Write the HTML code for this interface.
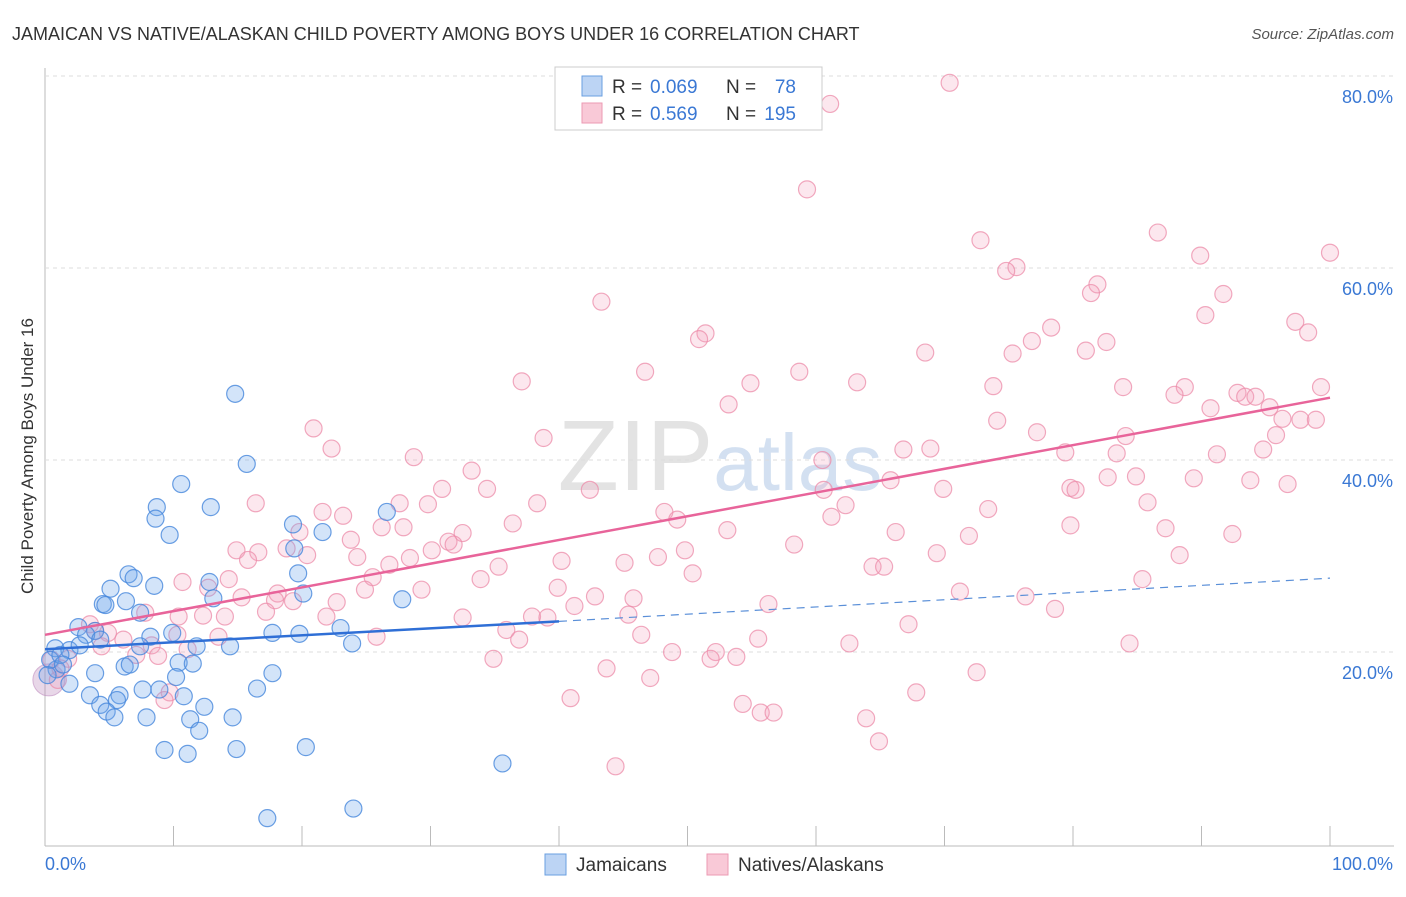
<!DOCTYPE html>
<html><head><meta charset="utf-8"><style>
body{margin:0;background:#fff;font-family:"Liberation Sans",sans-serif;}
svg text{font-family:"Liberation Sans",sans-serif;}
</style></head><body>
<svg id="chart" width="1406" height="892" viewBox="0 0 1406 892">
<text x="12" y="40" font-size="18" fill="#333">JAMAICAN VS NATIVE/ALASKAN CHILD POVERTY AMONG BOYS UNDER 16 CORRELATION CHART</text>
<text x="1394" y="39" font-size="15" fill="#555" text-anchor="end" font-style="italic">Source: ZipAtlas.com</text>
<text x="720" y="490" font-size="100" text-anchor="middle" font-family="Liberation Serif" fill="#ddd" opacity="0.8">ZIP<tspan fill="#c9d9ee" font-family="Liberation Sans" font-size="80">atlas</tspan></text>
<text transform="translate(33,456) rotate(-90)" font-size="17" fill="#333" text-anchor="middle">Child Poverty Among Boys Under 16</text>
<g id="grid"></g><g id="ticks"></g><g id="pts"></g><g id="lines"></g>
<g>
<rect x="555" y="67" width="267" height="63" fill="#fff" stroke="#ccc"/>
<rect x="582" y="76" width="20" height="20" fill="#bcd4f4" stroke="#6a9fe0"/>
<rect x="582" y="103" width="20" height="20" fill="#f9c9d7" stroke="#ec9ab3"/>
<text x="612" y="93" font-size="19" fill="#333">R =</text>
<text x="650" y="93" font-size="19" fill="#3a78d4">0.069</text>
<text x="726" y="93" font-size="19" fill="#333">N =</text>
<text x="796" y="93" font-size="19" fill="#3a78d4" text-anchor="end">78</text>
<text x="612" y="120" font-size="19" fill="#333">R =</text>
<text x="650" y="120" font-size="19" fill="#3a78d4">0.569</text>
<text x="726" y="120" font-size="19" fill="#333">N =</text>
<text x="796" y="120" font-size="19" fill="#3a78d4" text-anchor="end">195</text>
</g>
<g>
<rect x="545" y="854" width="21" height="21" fill="#bcd4f4" stroke="#6a9fe0"/>
<text x="576" y="871" font-size="19" fill="#333">Jamaicans</text>
<rect x="707" y="854" width="21" height="21" fill="#f9c9d7" stroke="#ec9ab3"/>
<text x="738" y="871" font-size="19" fill="#333">Natives/Alaskans</text>
</g>
</svg>
<script>
const yTicks=[20,40,60,80];
const xTickLabels=["0.0%","100.0%"];
const blueX=[14.8,15.7,10.6,8.7,8.6,12.9,9.7,19.3,21.6,26.6,19.4,6.5,6.9,12.8,5.1,8.5,19.7,20.1,27.8,4.5,4.7,6.3,13.1,7.4,2.6,3.9,9.9,8.2,17.7,19.8,23.0,3.2,7.4,11.8,14.4,23.9,0.8,1.9,2.7,4.3,6.2,6.6,10.4,11.5,3.9,10.2,17.7,1.9,0.9,3.5,5.8,7.6,8.9,10.8,16.5,4.3,5.6,4.8,5.4,7.9,11.3,12.4,14.6,12.0,9.3,11.1,14.9,20.3,35.6,17.3,24.0,0.4,1.2,0.2,1.4];
const blueY=[47.1,39.8,37.7,35.3,34.1,35.3,32.4,33.5,32.7,34.8,31.0,28.3,27.9,27.5,26.8,27.1,28.4,26.3,25.7,25.2,25.1,25.5,25.8,24.3,22.8,22.4,22.2,21.8,22.2,22.1,22.7,22.0,20.8,20.8,20.8,21.1,20.6,20.4,20.9,21.5,18.7,18.9,19.1,19.0,18.0,17.6,18.0,16.9,18.4,15.7,15.7,16.3,16.3,15.6,16.4,14.7,15.2,14.0,13.4,13.4,13.2,14.5,13.4,12.0,10.0,9.6,10.1,10.3,8.6,2.9,3.9,19.4,19.9,17.8,18.9];
const pinkX=[70.4,61.1,59.3,72.8,86.6,100,89.9,75.6,74.8,81.9,81.4,91.7,43.3,90.3,97.3,98.3,51.4,50.9,78.3,76.8,82.6,81.0,68.5,75.3,46.7,58.7,37.1,54.9,63.2,73.8,83.9,88.7,99.3,87.9,92.8,93.4,94.2,95.3,90.7,53.2,74.1,96.3,97.7,98.9,20.9,95.8,77.2,84.1,38.8,22.3,28.7,66.8,68.9,79.4,83.4,91.2,94.8,60.5,33.2,34.4,30.9,42.4,60.6,69.9,65.8,79.8,80.2,82.7,84.9,89.4,93.8,96.7,16.4,27.6,29.8,38.3,62.3,85.8,73.4,21.6,23.2,48.2,49.2,61.2,36.4,26.2,27.9,32.5,53.1,66.2,79.8,87.2,92.4,19.8,23.8,31.4,31.8,71.9,14.9,16.6,18.8,20.4,30.1,49.8,58.3,69.4,88.3,15.8,24.3,28.4,40.2,47.7,45.1,26.8,35.3,64.4,65.3,14.3,25.5,10.7,33.9,50.4,85.4,12.7,24.9,29.3,39.9,15.3,18.1,17.9,19.3,22.7,42.8,45.8,71.2,76.3,56.3,41.2,78.6,7.8,17.2,10.4,12.3,14.0,21.9,32.5,37.9,39.1,45.4,67.2,3.5,3.9,13.5,4.9,6.1,10.3,35.9,25.8,36.9,46.4,55.5,8.3,11.1,4.4,62.6,84.4,48.8,52.2,7.1,8.8,34.9,51.8,53.8,1.8,43.7,72.5,47.1,1.0,9.7,9.3,67.8,40.9,54.3,55.7,56.7,63.9,64.9,44.4,0.5,1.2];
const pinkY=[79.5,77.3,68.4,63.1,63.9,61.8,61.5,60.3,59.9,58.5,57.6,57.5,56.7,55.3,54.6,53.5,53.4,52.8,54.0,52.6,52.5,51.6,51.4,51.3,49.4,49.4,48.4,48.2,48.3,47.9,47.8,47.8,47.8,47.0,47.2,46.8,46.8,45.7,45.6,46.0,44.3,44.5,44.4,44.4,43.5,42.8,43.1,42.7,42.5,41.4,40.5,41.3,41.4,41.0,40.9,40.8,41.3,40.2,39.1,37.2,37.2,37.1,37.1,37.2,38.1,37.3,37.1,38.4,38.5,38.3,38.1,37.7,35.7,35.7,35.6,35.7,35.5,35.8,35.1,34.8,34.4,34.8,34.0,34.3,33.6,33.2,33.2,32.6,32.9,32.7,33.4,33.1,32.5,32.7,31.9,31.7,31.4,32.3,30.8,30.6,31.0,30.3,30.8,30.8,31.4,30.5,30.3,29.8,30.1,30.0,29.7,30.1,29.5,29.3,29.1,29.1,29.1,27.8,28.0,27.5,27.8,28.4,27.8,26.9,26.7,26.7,26.9,25.9,26.3,25.6,25.5,25.4,26.0,25.8,26.5,26.0,25.2,25.0,24.7,24.3,24.4,23.9,24.0,23.9,23.9,23.8,23.9,23.8,24.1,23.1,23.1,22.4,21.8,22.2,21.5,22.0,22.5,21.8,21.5,22.0,21.6,20.9,20.5,20.8,21.1,21.1,20.2,20.2,19.9,19.8,19.5,19.5,19.7,19.5,18.5,18.1,17.5,17.3,16.0,15.2,16.0,15.4,14.8,13.9,13.9,13.3,10.9,8.3,19.4,18.5];
const blueTrend=[20.5,23.4,27.9]; // y at x=0, x=40 (solid end), x=100
const pinkTrend=[22.0,46.7]; // y at x=0, x=100
const X0=45,X1=1330,Y0=846,PY=9.6;
const sx=v=>X0+(X1-X0)*v/100, sy=v=>Y0-v*PY;
const NS="http://www.w3.org/2000/svg";
function mk(p,t,a){const e=document.createElementNS(NS,t);for(const k in a)e.setAttribute(k,a[k]);document.getElementById(p).appendChild(e);return e;}
let e=mk('grid','line',{x1:45,y1:68,x2:45,y2:846,stroke:'#bbb'});


e=mk('grid','line',{x1:45,y1:846,x2:1394,y2:846,stroke:'#bbb'});


yTicks.forEach(t=>{
 e=mk('grid','line',{x1:45,x2:1394,y1:sy(t)-2,y2:sy(t)-2,stroke:'#ddd','stroke-dasharray':'4,4'});
 
 
 e=mk('grid','text',{x:1393,y:sy(t)+25,'font-size':18,fill:'#3a78d4','text-anchor':'end'});
 e.textContent=t.toFixed(1)+'%';
 
 
});
for(let i=0;i<=10;i++){
 e=mk('ticks','line',{x1:sx(i*10),x2:sx(i*10),y1:826,y2:846,stroke:'#bbb'});
 
 
}
e=mk('ticks','text',{x:45,y:870,'font-size':18,fill:'#3a78d4'});e.textContent=xTickLabels[0];


e=mk('ticks','text',{x:1393,y:870,'font-size':18,fill:'#3a78d4','text-anchor':'end'});e.textContent=xTickLabels[1];


e=mk('pts','circle',{cx:sx(0.3),cy:sy(17.3),r:16,fill:'rgba(190,140,190,0.35)',stroke:'rgba(190,140,190,0.6)'});


pinkX.forEach((x,i)=>{
 e=mk('pts','circle',{cx:sx(x),cy:sy(pinkY[i]),r:8.5,fill:'rgba(244,160,188,0.25)',stroke:'rgba(236,140,170,0.75)','stroke-width':1.2});
 
 
});
blueX.forEach((x,i)=>{
 e=mk('pts','circle',{cx:sx(x),cy:sy(blueY[i]),r:8.5,fill:'rgba(110,165,235,0.3)',stroke:'rgba(70,135,220,0.8)','stroke-width':1.2});
 
 
});
e=mk('lines','line',{x1:sx(0),y1:sy(blueTrend[0]),x2:sx(40),y2:sy(blueTrend[1]),stroke:'#2f6fd6','stroke-width':2.5});


e=mk('lines','line',{x1:sx(40),y1:sy(blueTrend[1]),x2:sx(100),y2:sy(blueTrend[2]),stroke:'#5a8fd8','stroke-width':1.2,'stroke-dasharray':'8,6'});


e=mk('lines','line',{x1:sx(0),y1:sy(pinkTrend[0]),x2:sx(100),y2:sy(pinkTrend[1]),stroke:'#e8649a','stroke-width':2.5});


</script>
</body></html>
